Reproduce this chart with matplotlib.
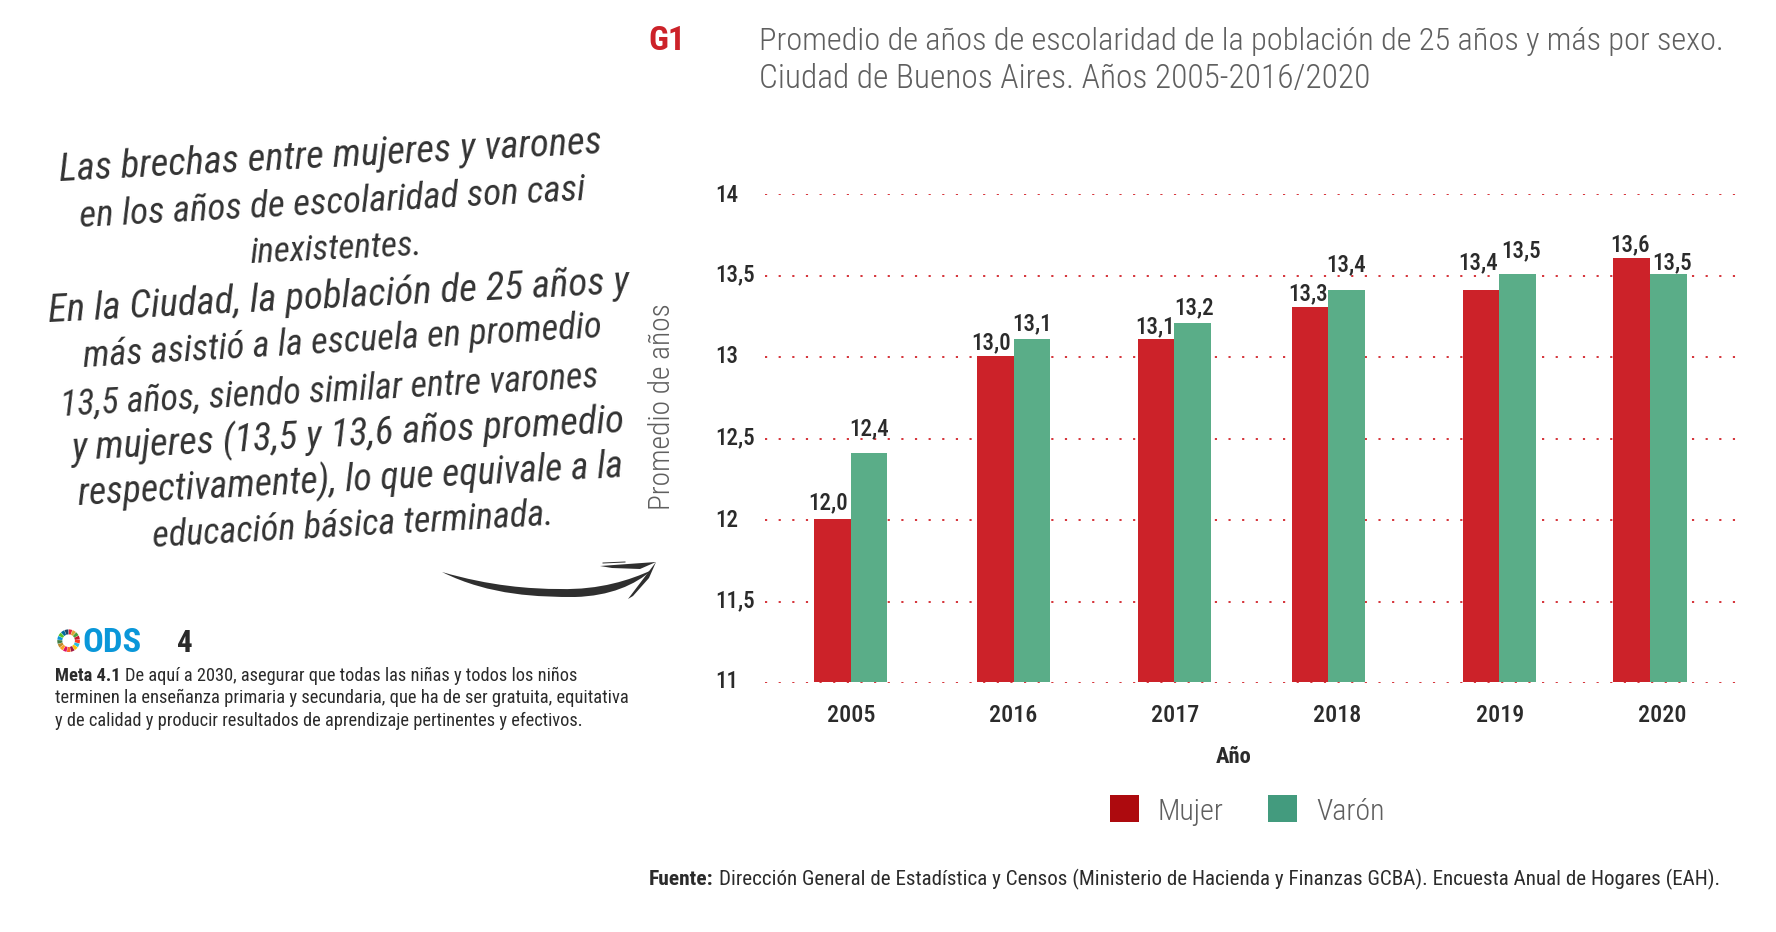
import numpy as np
import matplotlib
matplotlib.use('Agg')
import matplotlib.pyplot as plt
from matplotlib.legend_handler import HandlerPatch
from matplotlib.patches import Patch, PathPatch, Rectangle, Wedge
from matplotlib.path import Path
from matplotlib.transforms import ScaledTranslation

# Datos del grafico
anios = ['2005', '2016', '2017', '2018', '2019', '2020']
mujer = [12.0, 13.0, 13.1, 13.3, 13.4, 13.6]
varon = [12.4, 13.1, 13.2, 13.4, 13.5, 13.5]
y_ticks = [11, 11.5, 12, 12.5, 13, 13.5, 14]
y_labels = ['11', '11,5', '12', '12,5', '13', '13,5', '14']

titulo = ['Promedio de años de escolaridad de la población de 25 años y más por sexo.',
          'Ciudad de Buenos Aires. Años 2005-2016/2020']
manuscrito = ['Las brechas entre mujeres y varones',
              'en los años de escolaridad son casi',
              'inexistentes.',
              'En la Ciudad, la población de 25 años y',
              'más asistió a la escuela en promedio',
              '13,5 años, siendo similar entre varones',
              'y mujeres (13,5 y 13,6 años promedio',
              'respectivamente), lo que equivale a la',
              'educación básica terminada.']
meta = ['De aquí a 2030, asegurar que todas las niñas y todos los niños',
        'terminen la enseñanza primaria y secundaria, que ha de ser gratuita, equitativa',
        'y de calidad y producir resultados de aprendizaje pertinentes y efectivos.']
fuente = 'Dirección General de Estadística y Censos (Ministerio de Hacienda y Finanzas GCBA). Encuesta Anual de Hogares (EAH).'
colores_ods = ['#E5243B', '#DDA63A', '#4C9F38', '#C5192D', '#FF3A21', '#26BDE2', '#FCC30B',
               '#A21942', '#FD6925', '#DD1367', '#FD9D24', '#BF8B2E', '#3F7E44', '#0A97D9',
               '#56C02B', '#00689D', '#19486A']

W, H = 1776, 932
ROJO = '#CC2229'
VERDE = '#5AAD88'
GRIS = '#5F5F5F'
OSCURO = '#2B2B2B'


def pt(px):
    # tamanio de fuente en pixeles a puntos (dpi 100)
    return px * 0.72


def cuadro_leyenda(legend, orig_handle, xdescent, ydescent, width, height, fontsize):
    # el cuadrado de la leyenda queda casi apoyado en la linea base del texto
    return Rectangle((-xdescent, -pt(1.4)), width, height)


plt.rcParams['font.family'] = ['Roboto Condensed', 'DejaVu Sans']
fig = plt.figure(figsize=(W / 100, H / 100), dpi=100)

# Ejes con la grilla (posicion en pixeles de la imagen)
left, right, top, bottom = 765, 1739, 194, 683
ax = fig.add_axes([left / W, 1 - bottom / H, (right - left) / W, (bottom - top) / H])
px_por_anio = 162.2
xlim = ((left - 851) / px_por_anio, (right - 851) / px_por_anio)
ax.set_xlim(xlim)
ax.set_ylim(11, 14)
ax.set_yticks(y_ticks, y_labels)
ax.set_xticks(range(len(anios)), anios)
ax.grid(axis='y', color='#D2232A', linewidth=1.3, linestyle=(0, (1.2, 6.35)))
ax.set_axisbelow(True)
for s in ax.spines.values():
    s.set_visible(False)
ax.tick_params(axis='both', length=0)
ax.tick_params(axis='y', pad=pt(left - 715), labelsize=pt(23), labelcolor=OSCURO)
ax.tick_params(axis='x', pad=pt(38.7), labelsize=pt(24), labelcolor=OSCURO)
# las etiquetas del eje y no caen justo sobre la grilla en el original
ajuste_y = [4.5, 3.4, 2.3, 3.4, 3.4, 3.4, 1.1]
for lab, dy in zip(ax.get_yticklabels(), ajuste_y):
    lab.set_ha('left')
    lab.set_va('center_baseline')
    lab.set_fontweight(500)
    lab.set_transform(lab.get_transform() + ScaledTranslation(0, dy / 100, fig.dpi_scale_trans))
for lab in ax.get_xticklabels():
    lab.set_va('baseline')
    lab.set_fontweight(500)

# Las barras van en otros ejes, corridos 1.5 px hacia arriba respecto de la grilla
bx = fig.add_axes([left / W, 1 - (bottom - 1.5) / H, (right - left) / W, (bottom - top) / H])
bx.set_xlim(xlim)
bx.set_ylim(11, 14)
bx.axis('off')

ancho = 36.8 / px_por_anio
corrimiento = np.array([-0.5, 0.4, -1, -9.2, -0.4, -12]) / px_por_anio
x = np.arange(len(anios)) + corrimiento
bx.bar(x - ancho / 2, mujer, ancho, color=ROJO, linewidth=0)
bx.bar(x + ancho / 2, varon, ancho, color=VERDE, linewidth=0)

# Etiquetas de valores: separacion vertical y horizontal en px, a mano
dy_mujer = [9, 6, 6, 6, 21, 6]
dx_mujer = [-4, -4, -1, -2, -3, -2]
dy_varon = [18, 9, 9, 19, 17, 5]
dx_varon = [0, 0, 1, -1, 3, 4]
for i in range(len(anios)):
    bx.annotate(f'{mujer[i]:.1f}'.replace('.', ','), (x[i] - ancho / 2, mujer[i]),
                xytext=(pt(dx_mujer[i]), pt(dy_mujer[i])), textcoords='offset points',
                ha='center', va='baseline', fontsize=pt(23), fontweight=500, color=OSCURO)
    bx.annotate(f'{varon[i]:.1f}'.replace('.', ','), (x[i] + ancho / 2, varon[i]),
                xytext=(pt(dx_varon[i]), pt(dy_varon[i])), textcoords='offset points',
                ha='center', va='baseline', fontsize=pt(23), fontweight=500, color=OSCURO)

# Capa en pixeles para todo lo que esta fuera del grafico
ov = fig.add_axes([0, 0, 1, 1], zorder=5)
ov.set_xlim(0, W)
ov.set_ylim(H, 0)
ov.axis('off')

ov.text(648, 50, 'G1', fontsize=pt(34), fontweight='bold', color=ROJO, va='baseline')
ov.text(759, 50, titulo[0], fontsize=pt(32.4), fontweight=300, color=GRIS, va='baseline')
ov.text(759, 88, titulo[1], fontsize=pt(33.4), fontweight=300, color=GRIS, va='baseline')

ov.text(669.5, 406.5, 'Promedio de años', fontsize=pt(29.5), fontweight=300, color=GRIS, rotation=90,
        ha='center', va='baseline', rotation_mode='anchor')
ov.text(1234, 763, 'Año', fontsize=pt(22.5), fontweight='bold', color=OSCURO, ha='center', va='baseline')

# Texto manuscrito: cada renglon va inclinado (x izq, y izq, x der, y der) y con su tamanio
renglones = [(58, 181, 603, 153), (80, 227, 585, 200), (252, 263, 421, 255),
             (49, 322, 630, 293), (83, 367, 603, 337), (59, 416, 600, 387),
             (72, 460, 625, 432), (78, 505, 623, 477), (155, 547, 552, 525)]
tamanios = [38.7, 37, 35.3, 39, 36.5, 36, 38.8, 37.7, 36.4]
for linea, (x0, y0, x1, y1), t in zip(manuscrito, renglones, tamanios):
    angulo = np.degrees(np.arctan2(y0 - y1, x1 - x0))
    ov.text((x0 + x1) / 2, (y0 + y1) / 2, linea, fontsize=pt(t), fontweight=400, style='italic', color='#333333',
            rotation=angulo, rotation_mode='anchor', ha='center', va='baseline')

# Flecha de pincel
TINTA = '#2F2F2F'
verts = [(442, 572), (490, 596), (540, 597), (575, 597),
         (610, 596), (635, 585), (652, 570),
         (630, 580), (600, 590), (560, 589),
         (530, 589), (490, 586), (442, 572)]
codes = [Path.MOVETO] + [Path.CURVE4] * 12
ov.add_patch(PathPatch(Path(verts, codes), facecolor=TINTA, edgecolor='none'))
ov.add_patch(plt.Polygon([(600, 566), (656, 562), (640, 569), (612, 568)], facecolor=TINTA, edgecolor='none'))
ov.add_patch(plt.Polygon([(628, 599), (656, 562), (649, 578), (633, 596)], facecolor=TINTA, edgecolor='none'))
ov.plot([603, 625], [563, 562], color=TINTA, lw=0.7)

# Logo ODS
for i, c in enumerate(colores_ods):
    paso = 360 / len(colores_ods)
    ov.add_patch(Wedge((68.6, 640.7), 11.3, i * paso - 90, (i + 1) * paso - 90 - 2, width=5, facecolor=c, edgecolor='none'))
ov.text(82, 651.5, 'ODS', fontsize=pt(34.5), fontweight='bold', color='#0A97D9', va='baseline')
ov.text(177, 651.5, '4', fontsize=pt(31), fontweight='bold', color=OSCURO, va='baseline')

# Meta y fuente
ov.text(55, 681, 'Meta 4.1', fontsize=pt(18.5), fontweight='bold', color=OSCURO, va='baseline')
ov.text(125, 681, meta[0], fontsize=pt(18.4), color=OSCURO, va='baseline')
ov.text(55, 703, meta[1], fontsize=pt(18.5), color=OSCURO, va='baseline')
ov.text(55, 726, meta[2], fontsize=pt(18.4), color=OSCURO, va='baseline')
ov.text(648.5, 885, 'Fuente:', fontsize=pt(21.5), fontweight='bold', color=OSCURO, va='baseline')
ov.text(718.5, 885, fuente, fontsize=pt(21.05), color=OSCURO, va='baseline')

# Leyenda
handles = [Patch(facecolor='#AD0A0E', label='Mujer'), Patch(facecolor='#439B7E', label='Varón')]
fig.legend(handles=handles, ncol=2, loc='center', bbox_to_anchor=(1247 / W, 1 - 811.5 / H),
           frameon=False, prop={'size': pt(30), 'weight': 300}, labelcolor=GRIS, handlelength=0.97,
           handleheight=1.0, handletextpad=0.62, columnspacing=1.5, borderpad=0, borderaxespad=0,
           handler_map={Patch: HandlerPatch(patch_func=cuadro_leyenda)})

fig.savefig('out.png', dpi=100)
